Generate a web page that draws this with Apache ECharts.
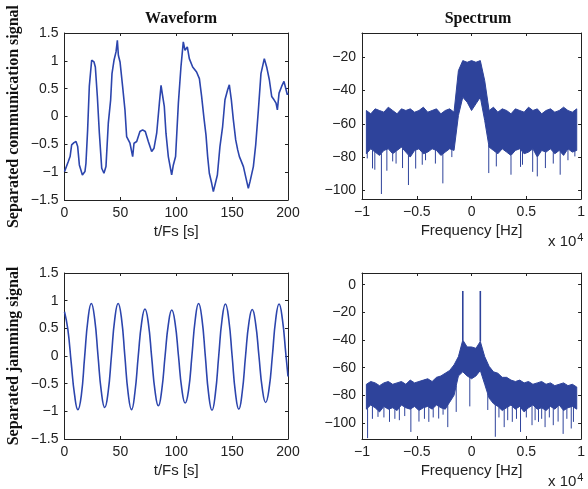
<!DOCTYPE html>
<html><head><meta charset="utf-8">
<script src="https://cdn.jsdelivr.net/npm/echarts@6/dist/echarts.min.js"></script>
<style>html,body{margin:0;padding:0;background:#fff}#c{width:588px;height:489px}</style>
</head><body><div id="c"></div>
<script>
// ---------- data ----------
const commT = [0,3.4,5,6.4,8.5,10.3,11.8,13.3,16,18.3,19.2,20.7,22.2,24.3,26.4,27.6,29.4,31.2,33.3,35.3,37.1,39.2,41.3,42.5,44.3,46.1,47.3,48.2,49.7,52,54.1,55.6,58.6,61,62.2,64.6,67.5,69.9,72.3,75,78,80.1,82.5,84.9,86.4,87.5,89.3,90.8,92.9,95.9,97.4,99.4,101.9,104.2,106.3,107.8,109.9,111.7,114.7,118.2,120.7,122.7,124.8,126.6,128.1,129.6,131.7,133.2,134.7,136.8,139.1,141.5,143.6,146,147.5,149.3,151.1,153.2,155,156.5,157.7,160.1,162.1,164.5,166,169,171.1,173.5,175.8,178.8,180.9,183.3,185.4,187.5,189.3,190.5,192,194.3,196.4,197.9,199.4,200];
const commV = [-0.99,-0.81,-0.72,-0.51,-0.47,-0.45,-0.54,-0.87,-1.05,-0.99,-0.84,-0.24,0.54,1.01,0.98,0.89,0.36,-0.3,-0.93,-1.02,-0.9,-0.12,0.3,0.77,1.01,1.16,1.37,1.10,0.98,0.54,0.12,-0.36,-0.48,-0.72,-0.48,-0.45,-0.27,-0.24,-0.27,-0.45,-0.63,-0.57,-0.3,0.24,0.56,0.41,0.18,-0.3,-0.72,-1.05,-0.87,-0.72,0.24,0.89,1.34,1.19,1.25,1.04,0.89,0.8,0.68,0.36,-0.03,-0.33,-0.72,-1.02,-1.2,-1.35,-1.32,-1.05,-0.54,-0.18,0.3,0.48,0.57,0.3,-0.06,-0.42,-0.6,-0.72,-0.78,-0.9,-1.08,-1.29,-1.17,-0.9,-0.51,0.12,0.77,1.04,0.89,0.66,0.36,0.3,0.24,0.12,0.42,0.54,0.63,0.60,0.39,0.42];

const jamT = [0,3,6,9,12,15,18,21,24,27,30,33,36,39,42,45,48,51,54,57,60,63,66,69,72,75,78,81,84,87,90,93,96,99,102,105,108,111,114,117,120,123,126,129,132,135,138,141,144,147,150,153,156,159,162,165,168,171,174,177,180,183,186,189,192,195,198,200];
const jamV = [0.80,0.48,-0.12,-0.70,-0.97,-0.72,-0.02,0.66,0.95,0.67,0,-0.65,-0.93,-0.66,0,0.67,0.95,0.68,0,-0.68,-0.97,-0.66,0,0.6,0.85,0.6,-0.02,-0.63,-0.9,-0.62,0,0.58,0.83,0.59,0,-0.6,-0.85,-0.62,0,0.66,0.95,0.67,0,-0.69,-0.98,-0.68,0,0.66,0.94,0.66,0,-0.67,-0.96,-0.66,0,0.6,0.84,0.59,0,-0.59,-0.84,-0.6,0,0.66,0.94,0.66,0.05,-0.37];

// frequency bins (x 10^4 Hz)
const freqGrid = [-0.96,-0.92,-0.88,-0.84,-0.8,-0.76,-0.72,-0.68,-0.64,-0.6,-0.56,-0.52,-0.48,-0.44,-0.4,-0.36,-0.32,-0.28,-0.24,-0.2,-0.16,-0.12,-0.08,-0.04,0,0.04,0.08,0.12,0.16,0.2,0.24,0.28,0.32,0.36,0.4,0.44,0.48,0.52,0.56,0.6,0.64,0.68,0.72,0.76,0.8,0.84,0.88,0.92,0.96];

const commSpecTop = [-52,-54,-51,-52,-53,-50,-52,-54,-51,-52,-51,-53,-52,-50,-53,-52,-51,-54,-52,-51,-53,-28,-22,-23,-22,-23,-22,-34,-52,-50,-53,-51,-52,-54,-51,-52,-53,-50,-52,-51,-54,-52,-51,-53,-52,-50,-52,-53,-51];
const commSpecBot = [-78,-75,-77,-79,-76,-75,-78,-76,-74,-77,-80,-76,-75,-78,-77,-75,-76,-79,-77,-75,-76,-55,-44,-47,-52,-48,-44,-58,-74,-76,-78,-75,-77,-79,-76,-75,-78,-77,-75,-80,-76,-77,-75,-78,-76,-79,-75,-77,-76];
const commSpikeF = [-0.952,-0.904,-0.883,-0.823,-0.773,-0.72,-0.689,-0.63,-0.576,-0.51,-0.45,-0.42,-0.33,-0.262,-0.18,0.157,0.226,0.36,0.447,0.465,0.558,0.6,0.674,0.746,0.809,0.88,0.943];
const commSpikeV = [-80.8,-86.8,-87.6,-102.2,-88.2,-82.6,-83.9,-86.6,-96.8,-86.9,-84.6,-81.9,-83.9,-95.8,-80,-89.6,-85.6,-90.6,-85.9,-84.6,-88.9,-91.6,-86.6,-83.9,-90.6,-81.9,-79.6];

const jamSpecTop = [-72,-70,-71,-73,-71,-70,-72,-71,-70,-72,-69,-71,-70,-69,-68,-70,-67,-66,-64,-62,-58,-52,-40,-45,-45,-46,-41,-52,-59,-63,-64,-67,-67,-69,-70,-69,-71,-70,-72,-71,-70,-72,-71,-73,-72,-71,-73,-72,-74];
const jamSpecBot = [-90,-87,-89,-92,-88,-90,-89,-91,-87,-89,-90,-88,-91,-89,-88,-90,-87,-89,-90,-85,-80,-66,-63,-66,-68,-66,-62,-72,-82,-86,-88,-91,-89,-87,-90,-88,-92,-89,-87,-90,-89,-91,-88,-90,-87,-91,-89,-88,-90];
const jamSpikeF = [-0.949,-0.905,-0.854,-0.8,-0.749,-0.7,-0.659,-0.61,-0.554,-0.48,-0.43,-0.39,-0.35,-0.3,-0.26,-0.217,-0.14,-0.016,0.148,0.217,0.25,0.298,0.33,0.372,0.41,0.447,0.5,0.552,0.58,0.611,0.64,0.671,0.71,0.746,0.79,0.836,0.87,0.91,0.93];
const jamSpikeV = [-111,-97,-95.6,-96,-99.2,-97,-98,-95,-106.5,-99,-97,-99.2,-96,-96.8,-94,-103,-92,-88,-90.6,-110,-96,-103,-98,-99.2,-97,-106.5,-96,-101.6,-98,-99.2,-97,-103,-96,-101.6,-99,-107.9,-97,-104,-99.2];
const jamPeakF = [-0.08, 0.08];
const jamPeakV = [-4.5, -4.5];

// tick labels
const timeTicks = [0,50,100,150,200];
const waveTicks = [-1.5,-1,-0.5,0,0.5,1,1.5];
const freqTicks = [-1,-0.5,0,0.5,1];
const commSpecTicks = [-100,-80,-60,-40,-20];
const jamSpecTicks = [-100,-80,-60,-40,-20,0];

// ---------- styling ----------
const LINE = '#2c45ad';
const FILL = '#2e439b';
const TICKFONT = {fontFamily:'Liberation Sans, Arial, sans-serif', fontSize:14, color:'#222'};
const fmt = v => (v < 0 ? '\u2212' + Math.abs(v) : String(v));

const grids = [
  {left:64.5, top:33, width:223.5, height:167},
  {left:362, top:33, width:223, height:166},
  {left:64.5, top:273, width:223.5, height:166},
  {left:362, top:273, width:223, height:166}
];

const xAxes = [], yAxes = [];
function frame(g, xr, yr, xname, yname) {
  const axLine = {show:true, onZero:false, lineStyle:{color:'#222', width:1}};
  const tick = {show:true, inside:true, length:3, lineStyle:{color:'#222'}};
  const xBase = {type:'value', gridIndex:g, min:xr.min, max:xr.max, interval:xr.interval, axisLine:axLine, splitLine:{show:false}};
  const yBase = {type:'value', gridIndex:g, min:yr.min, max:yr.max, axisLine:axLine, splitLine:{show:false}};
  if (yr.interval) yBase.interval = yr.interval;
  const yTick = Object.assign({}, tick, yr.custom ? {customValues: yr.custom} : {});
  xAxes.push(Object.assign({}, xBase, {position:'bottom', axisTick:tick,
    axisLabel:Object.assign({show:true, margin:6, formatter:fmt, showMinLabel:true, showMaxLabel:true}, TICKFONT),
    name:xname, nameLocation:'middle', nameGap:24,
    nameTextStyle:{fontFamily:'Liberation Sans, Arial, sans-serif', fontSize:15, color:'#222'}}));
  xAxes.push(Object.assign({}, xBase, {position:'top', axisTick:tick, axisLabel:{show:false}}));
  const yl = Object.assign({show:true, margin:6, formatter:fmt}, TICKFONT, yr.custom ? {customValues: yr.custom} : {});
  const yLeft = Object.assign({}, yBase, {position:'left', axisTick:yTick, axisLabel:yl});
  if (yname) Object.assign(yLeft, {name:yname, nameLocation:'middle', nameRotate:90, nameGap:43,
    nameTextStyle:{fontFamily:'Liberation Serif, Times New Roman, serif', fontSize:16, fontWeight:'bold', color:'#111'}});
  yAxes.push(yLeft);
  yAxes.push(Object.assign({}, yBase, {position:'right', axisTick:yTick, axisLabel:{show:false}}));
}
frame(0, {min:0,max:200,interval:50}, {min:-1.5,max:1.5,interval:0.5}, 't/Fs [s]', 'Separated communication signal');
frame(1, {min:-1,max:1,interval:0.5}, {min:-105.2,max:-5.4,custom:commSpecTicks}, 'Frequency [Hz]', null);
frame(2, {min:0,max:200,interval:50}, {min:-1.5,max:1.5,interval:0.5}, 't/Fs [s]', 'Separated jamming signal');
frame(3, {min:-1,max:1,interval:0.5}, {min:-111.6,max:8.5,custom:jamSpecTicks}, 'Frequency [Hz]', null);

function interp(xs, ys, x) {
  if (x <= xs[0]) return ys[0];
  for (let i = 0; i < xs.length - 1; i++) {
    if (x <= xs[i+1]) { const r = (x - xs[i]) / (xs[i+1] - xs[i]); return ys[i] + r * (ys[i+1] - ys[i]); }
  }
  return ys[ys.length - 1];
}

// one filled polygon between the upper and lower envelopes
function bandSeries(axisIdx, f, top, bot) {
  const data = f.map((x, i) => [x, top[i], bot[i]]);
  return {type:'custom', xAxisIndex:axisIdx, yAxisIndex:axisIdx, silent:true, clip:true, data,
    encode:{x:0, y:[1,2]},
    renderItem(params, api) {
      if (params.dataIndex !== 0) return null;
      const pts = [];
      for (let i = 0; i < data.length; i++) pts.push(api.coord([data[i][0], data[i][1]]));
      for (let i = data.length - 1; i >= 0; i--) pts.push(api.coord([data[i][0], data[i][2]]));
      return {type:'polygon', shape:{points:pts}, style:{fill:FILL, stroke:FILL, lineWidth:1, lineJoin:'miter'}};
    }};
}
function spikeSeries(axisIdx, fs, vs, attachF, attachV, width) {
  const data = fs.map((f, i) => [f, vs[i], interp(attachF, attachV, f)]);
  return {type:'custom', xAxisIndex:axisIdx, yAxisIndex:axisIdx, silent:true, clip:true, data,
    encode:{x:0, y:[1,2]},
    renderItem(params, api) {
      const a = api.coord([api.value(0), api.value(1)]);
      const b = api.coord([api.value(0), api.value(2)]);
      return {type:'line', shape:{x1:a[0], y1:a[1], x2:b[0], y2:b[1]}, style:{stroke:FILL, lineWidth:width}};
    }};
}

const series = [
  {type:'line', xAxisIndex:0, yAxisIndex:0, data:commT.map((t,i)=>[t, commV[i]]), showSymbol:false, silent:true,
   lineStyle:{color:LINE, width:1.6}},
  bandSeries(2, freqGrid, commSpecTop, commSpecBot),
  spikeSeries(2, commSpikeF, commSpikeV, freqGrid, commSpecBot, 1),
  {type:'line', xAxisIndex:4, yAxisIndex:4, data:jamT.map((t,i)=>[t, jamV[i]]), showSymbol:false, silent:true, smooth:true,
   lineStyle:{color:LINE, width:1.6}},
  bandSeries(6, freqGrid, jamSpecTop, jamSpecBot),
  spikeSeries(6, jamSpikeF, jamSpikeV, freqGrid, jamSpecBot, 1),
  spikeSeries(6, jamPeakF, jamPeakV, freqGrid, jamSpecTop, 1.6)
];

const titleStyle = {fontFamily:'Liberation Serif, Times New Roman, serif', fontSize:16, fontWeight:'bold', color:'#111'};
const expText = (top) => ({type:'text', left:548, top:top, style:{
  text:'{a|x 10}{b|4}', rich:{a:{fontFamily:'Liberation Sans, Arial, sans-serif', fontSize:15, fill:'#222'},
  b:{fontFamily:'Liberation Sans, Arial, sans-serif', fontSize:11, fill:'#222', verticalAlign:'top', padding:[0,0,8,1]}}}});

const chart = echarts.init(document.getElementById('c'), null, {renderer:'canvas'});
chart.setOption({
  animation:false,
  backgroundColor:'#fff',
  title:[
    {text:'Waveform', left:176, top:6, textAlign:'center', textStyle:titleStyle},
    {text:'Spectrum', left:473, top:6, textAlign:'center', textStyle:titleStyle}
  ],
  grid:grids,
  xAxis:xAxes,
  yAxis:yAxes,
  series:series,
  graphic:[expText(232), expText(472)]
});
</script></body></html>
